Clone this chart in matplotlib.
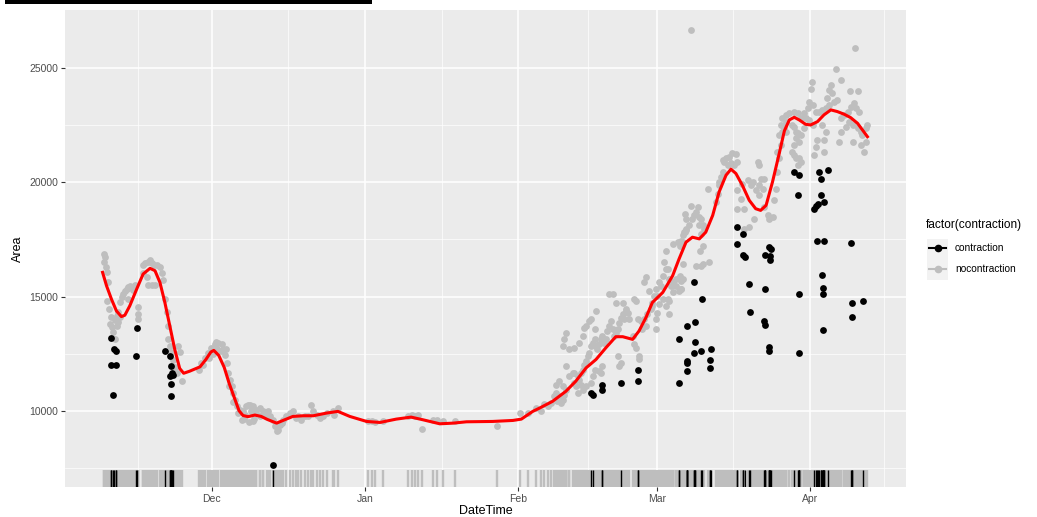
import numpy as np
import matplotlib
matplotlib.use("Agg")
import matplotlib.pyplot as plt
from matplotlib.patches import Rectangle
from matplotlib.lines import Line2D

plt.rcParams['font.family'] = ['Liberation Sans', 'DejaVu Sans']

# days are counted from 1 Dec
month_days = [0, 31, 62, 90, 121]
month_labels = ['Dec', 'Jan', 'Feb', 'Mar', 'Apr']
area_ticks = [10000, 15000, 20000, 25000]

# nocontraction points (day, area)
nov_gray = [(-21.8, 16860), (-21.6, 16730), (-21.8, 16510), (-21.4, 16290), (-21.2, 16070),
            (-21.0, 15630), (-21.2, 14800), (-20.8, 14440), (-20.6, 13780), (-20.2, 13650),
            (-19.9, 13430), (-19.5, 13120), (-19.2, 14140), (-18.9, 14310), (-18.6, 14750),
            (-18.2, 14970), (-17.9, 15100), (-17.5, 15230), (-17.2, 15320), (-16.9, 15410),
            (-16.6, 15460), (-16.2, 15410), (-18.9, 13900), (-18.6, 14100), (-19.2, 13700),
            (-19.6, 13950), (-14.9, 14530), (-14.9, 14220), (-14.9, 14000), (-13.9, 16380),
            (-13.6, 16470), (-12.9, 16510), (-12.5, 16600), (-12.2, 16470), (-11.8, 16380),
            (-11.1, 16380), (-10.5, 16300), (-10.1, 16030), (-9.8, 15720), (-13.9, 16030),
            (-13.2, 15850), (-12.9, 15500), (-12.2, 15500), (-11.5, 15500), (-9.5, 14880),
            (-9.1, 14310), (-8.8, 13700), (-8.8, 13120), (-8.5, 12820), (-8.2, 12550),
            (-7.8, 12240), (-7.5, 11930), (-6.8, 12820), (-6.5, 12550), (-7.1, 11670),
            (-6.1, 11280), (-16.0, 15300), (-15.6, 15500), (-17.0, 14900), (-20.4, 14100)]

dec_gray = [(-2.1, 12100), (-1.4, 12320), (-0.7, 12540), (-0.1, 12760), (0.6, 12900),
            (1.3, 12980), (2.0, 12900), (2.3, 12680), (2.6, 12460), (3.0, 12100),
            (3.3, 11660), (3.6, 11360), (4.0, 11070), (4.3, 10770), (4.6, 10480),
            (5.0, 10190), (5.7, 10040), (6.3, 9970), (7.0, 10190), (7.7, 10260),
            (8.3, 10190), (9.0, 10040), (9.7, 10120), (10.4, 9970), (-2.5, 11800),
            (-1.8, 12000), (-0.5, 12300), (0.3, 12500), (1.0, 12700), (1.8, 12600),
            (0.8, 13000), (2.8, 12700), (3.5, 11100), (4.2, 10400), (5.2, 9900),
            (6.5, 9650), (7.5, 9500), (8.5, 9650),
            (6.0, 9600), (6.7, 9820), (7.3, 10260), (8.0, 9970), (8.3, 9530),
            (9.0, 9900), (9.7, 9750), (10.4, 9820), (11.1, 9750), (11.4, 9970),
            (11.7, 9750), (12.4, 9600), (12.7, 9310), (13.1, 9090), (13.4, 9160),
            (13.7, 9380), (14.1, 9450), (14.4, 9600), (15.1, 9750), (15.8, 9900),
            (16.4, 9970), (17.1, 9680), (17.4, 9750), (18.1, 9600), (18.8, 9750),
            (19.5, 9750), (20.1, 10260), (20.5, 9970), (21.2, 9820), (21.8, 9680),
            (22.5, 9750), (23.2, 9900), (24.5, 9970), (24.8, 9820), (25.5, 10120)]

jan_gray = [(31.6, 9530), (32.4, 9550), (33.0, 9500), (34.6, 9530), (39.7, 9750),
            (40.4, 9820), (41.0, 9750), (41.6, 9800), (42.6, 9200), (44.7, 9600),
            (45.5, 9600), (46.7, 9530), (49.1, 9530), (57.6, 9340), (62.4, 9900)]

feb_gray = [(67.9, 10189), (68.6, 10336), (69.3, 10629), (69.6, 10776), (69.9, 10409),
            (70.3, 10629), (70.6, 10336), (71.0, 10483), (71.3, 10703), (71.6, 10923),
            (69.6, 11143), (70.3, 11289), (71.0, 11069), (72.3, 11509), (73.0, 11656),
            (73.3, 11216), (73.6, 11069), (74.0, 10776), (74.3, 11363), (74.7, 11656),
            (75.0, 11803), (75.3, 12023), (75.7, 12169), (76.0, 12389), (76.3, 12536),
            (76.7, 12829), (77.0, 12976), (77.4, 13123), (77.7, 12829), (78.0, 12683),
            (78.4, 12903), (78.7, 13123), (79.0, 13270), (79.4, 12976), (79.7, 13123),
            (80.0, 13490), (80.4, 13710), (80.7, 13930), (81.1, 13563), (81.4, 13270),
            (81.7, 13416), (82.1, 13563), (82.4, 13856), (82.7, 14077), (83.1, 14223),
            (83.4, 14003), (83.7, 14370), (84.1, 14297), (82.4, 11949), (82.7, 12096),
            (82.1, 12389), (79.0, 11949), (78.7, 11656), (78.4, 11729), (77.4, 11803),
            (77.0, 11509), (76.7, 11216), (75.7, 11069), (75.0, 10923), (74.7, 11143),
            (74.0, 11509), (73.3, 11656), (71.6, 11949), (71.0, 12829), (71.3, 13123),
            (71.6, 13416), (72.3, 12683), (73.3, 12756), (74.3, 12976), (75.0, 13270),
            (75.3, 13636), (75.7, 13710), (76.3, 13930), (76.7, 14003), (77.4, 13563),
            (77.6, 14370), (80.4, 15103), (81.1, 15103), (81.7, 14737), (83.1, 14737),
            (83.7, 14443), (84.4, 14003), (85.1, 13270), (85.4, 12903), (85.8, 12756),
            (86.1, 14003), (85.4, 14883), (85.8, 14810), (86.4, 12389), (86.4, 12243),
            (87.1, 13563), (87.5, 15617), (87.8, 15837), (88.5, 15250), (89.1, 14737),
            (89.5, 15030), (89.8, 15323), (90.1, 15030), (90.5, 15617), (90.8, 15470),
            (91.2, 15910), (91.5, 16497), (91.8, 16204), (92.2, 16204), (92.5, 15763),
            (92.8, 15470), (93.2, 15617), (93.9, 15763), (94.5, 15250), (95.2, 15763),
            (94.9, 15323), (93.9, 15470), (93.2, 15177), (92.5, 14810), (91.8, 17011),
            (91.8, 14590), (92.2, 14883), (91.2, 14883), (90.5, 14663), (89.8, 14003),
            (89.8, 13563), (90.1, 14297), (93.2, 17304), (94.2, 17377), (94.9, 17451),
            (95.2, 17671), (95.5, 17817), (95.9, 17891), (92.5, 14223), (87.8, 13710),
            (87.5, 14003), (86.8, 13930), (88.1, 14223), (88.8, 14443), (89.1, 14590),
            (64.0, 9900), (65.5, 10100), (66.5, 10000), (67.2, 10300)]

mar_gray = [(94.6, 17229), (95.2, 17376), (95.6, 17816), (95.9, 17963), (96.6, 18110),
            (97.2, 18403), (97.6, 18550), (97.9, 18697), (96.9, 18960), (98.3, 18917),
            (98.6, 18476), (98.9, 18403), (99.3, 18110), (99.6, 17963), (98.6, 18110),
            (98.9, 17743), (99.3, 17229), (98.7, 17009), (97.9, 16349), (98.9, 16349),
            (99.3, 16423), (100.6, 16496), (95.2, 16423), (94.9, 15689), (94.9, 15322),
            (94.6, 15909), (95.9, 18403), (95.6, 18623), (100.3, 19723), (102.0, 19137),
            (102.3, 19503), (102.6, 19870), (103.0, 20237), (103.3, 20457), (103.6, 20897),
            (104.0, 21044), (104.6, 21117), (105.3, 21264), (106.0, 21220), (106.3, 20897),
            (105.7, 20750), (105.0, 20824), (104.3, 20750), (103.3, 20970), (102.6, 20017),
            (106.3, 19650), (107.0, 19283), (106.3, 18843), (107.7, 18843), (107.3, 19943),
            (108.4, 20090), (109.0, 19870), (109.4, 20017), (110.0, 19650), (110.7, 19870),
            (111.0, 20163), (111.4, 19723), (111.7, 20163), (110.7, 19430), (110.4, 20897),
            (110.7, 20750), (111.7, 18917), (112.4, 18550), (112.7, 18403), (113.4, 18476),
            (113.7, 19210), (109.7, 18403), (108.7, 18036), (107.7, 17963), (114.1, 19723),
            (114.4, 20457), (114.8, 21044), (115.1, 21630), (115.4, 22217), (116.1, 22657),
            (114.8, 22071), (114.4, 21337), (117.4, 22511), (118.1, 22217), (117.8, 21630),
            (117.4, 21337), (118.1, 21044), (118.5, 20750), (96.9, 26689)]

apr_gray = [(130.1, 25884), (126.2, 24974), (127.2, 24490), (121.3, 24387), (121.1, 24094),
            (125.2, 24270), (124.9, 24050), (125.5, 23903), (124.5, 23683), (125.9, 23537),
            (126.5, 23610), (124.9, 23390), (124.2, 23243), (123.5, 23170), (122.8, 23097),
            (122.2, 23097), (121.5, 23390), (120.8, 23537), (120.5, 23243), (119.8, 23023),
            (119.1, 22803), (118.5, 23023), (117.8, 23097), (116.8, 23023), (116.1, 22950),
            (115.4, 22803), (115.1, 22510), (115.8, 22363), (116.1, 22216), (117.8, 22436),
            (118.5, 22143), (118.1, 21923), (118.8, 21776), (119.1, 22070), (117.8, 21189),
            (118.8, 21043), (119.1, 20896), (121.8, 21189), (122.2, 21556), (122.5, 21850),
            (123.8, 21850), (124.2, 22216), (123.8, 21336), (123.5, 22510), (121.5, 22510),
            (120.8, 22730), (120.1, 22803), (119.8, 22363), (129.0, 23977), (130.6, 23977),
            (129.9, 23463), (129.2, 23317), (130.2, 23243), (130.9, 23097), (128.6, 23097),
            (127.9, 22950), (127.2, 22803), (127.2, 22216), (128.2, 22436), (128.9, 22656),
            (129.6, 22510), (130.6, 22363), (131.2, 22216), (131.6, 22070), (132.3, 22363),
            (132.6, 22510), (126.9, 21776), (129.6, 21776), (131.2, 21630), (131.9, 21336),
            (132.3, 21776)]

# contraction points (day, area)
contraction = [(-15.2, 13607), (-20.3, 13196), (-19.8, 12712), (-19.3, 12610), (-20.4, 11993),
               (-19.3, 11993), (-19.9, 10702), (-15.4, 12404), (-9.5, 12610), (-8.5, 12390),
               (-8.2, 11949), (-8.0, 11656), (-8.5, 11509), (-7.8, 11583), (-8.2, 11186),
               (-8.35, 10629), (12.4, 7624),
               (76.7, 10776), (77.0, 10703), (79.0, 11143), (79.0, 10923), (82.7, 11216),
               (86.1, 11803), (86.1, 11289), (94.5, 11216), (94.5, 13123), (96.2, 13710),
               (96.2, 12169), (96.2, 12096), (96.2, 11729),
               (97.6, 15616), (99.1, 14912), (97.8, 13899), (97.8, 13005), (97.6, 12506),
               (98.9, 12609), (100.9, 12711), (100.7, 12212), (100.7, 11890), (106.3, 18036),
               (107.5, 17728), (106.3, 17317), (107.5, 16819), (107.9, 16731), (108.7, 15528),
               (108.8, 14325), (111.9, 16819), (112.7, 17156), (113.1, 17083), (112.9, 16790),
               (112.9, 16613), (111.9, 15322), (111.7, 13929), (111.9, 13738), (112.6, 12799),
               (112.7, 12608),
               (117.8, 20456), (118.8, 20338), (122.8, 20456), (124.6, 20529), (123.2, 20162),
               (118.6, 19458), (123.2, 19458), (123.8, 19135), (121.8, 18842), (122.2, 18959),
               (122.7, 19062), (122.5, 17448), (123.8, 17448), (129.2, 17331), (123.5, 15937),
               (118.7, 15130), (123.6, 15351), (123.6, 15130), (129.4, 14735), (131.7, 14808),
               (129.4, 14118), (123.6, 13517), (118.7, 12534)]

# smoothed fit
smooth = [(-22.1, 16057), (-21.3, 15470), (-20.3, 14883), (-19.3, 14370), (-18.3, 14121),
          (-17.6, 14179), (-16.6, 14590), (-15.2, 15324), (-13.9, 15984), (-12.5, 16233),
          (-11.5, 16130), (-10.5, 15617), (-9.5, 14737), (-8.5, 13710), (-7.5, 12683),
          (-6.5, 11850), (-5.7, 11640), (-4.5, 11729), (-2.4, 11920), (-1.2, 12243),
          (-0.2, 12570), (0.4, 12640), (1.4, 12420), (2.5, 11900), (3.5, 11200),
          (4.4, 10660), (5.5, 10000), (6.3, 9790), (7.3, 9740), (8.7, 9810),
          (10.0, 9749), (11.2, 9620), (13.1, 9456), (14.4, 9574), (16.4, 9750),
          (18.5, 9779), (20.5, 9779), (23.2, 9896), (25.5, 9970), (27.9, 9750),
          (31.3, 9530), (34.0, 9486), (37.3, 9632), (40.3, 9720), (42.7, 9603),
          (46.1, 9427), (48.8, 9456), (51.5, 9515), (56.8, 9530), (60.9, 9574),
          (62.6, 9632), (64.9, 9970), (66.3, 10117), (68.9, 10409), (71.6, 10849),
          (73.6, 11289), (75.7, 11876), (77.7, 12243), (79.7, 12756), (81.7, 13240),
          (83.1, 13240), (85.1, 13123), (86.4, 13490), (87.8, 14077), (89.1, 14737),
          (91.2, 15177), (93.2, 15910), (94.5, 16644), (95.9, 17376), (97.2, 17596),
          (98.6, 17523), (99.9, 17816), (101.3, 18550), (102.6, 19577), (104.0, 20310),
          (105.0, 20574), (106.0, 20384), (107.3, 19870), (108.7, 19210), (110.0, 18843),
          (111.0, 18770), (112.1, 18990), (113.4, 20017), (114.8, 21300), (115.8, 22250),
          (116.8, 22730), (117.8, 22847), (118.8, 22730), (120.1, 22539), (121.1, 22510),
          (122.5, 22656), (123.8, 22950), (125.2, 23170), (126.5, 23097), (127.9, 22979),
          (129.2, 22832), (130.6, 22583), (131.6, 22290), (132.6, 21996)]

gray_pts = np.array(nov_gray + dec_gray + jan_gray + feb_gray + mar_gray + apr_gray)
black_pts = np.array(contraction)
smooth = np.array(smooth)

W, H = 1037, 517
fig = plt.figure(figsize=(W / 100, H / 100), dpi=100)
ax = fig.add_axes([65 / W, (H - 487) / H, (906 - 65) / W, (487 - 10) / H])
ax.set_facecolor('#EBEBEB')
for s in ax.spines.values():
    s.set_visible(False)

ax.set_xlim(-29.7, 140.4)
ax.set_ylim(6660, 27543)

ax.set_xticks(month_days)
ax.set_xticklabels(month_labels)
ax.set_xticks([-15, 15.5, 46.5, 76, 105.5, 136], minor=True)
ax.set_yticks(area_ticks)
ax.set_yticklabels([str(v) for v in area_ticks])
ax.set_yticks([7500, 12500, 17500, 22500], minor=True)
ax.grid(True, which='major', color='white', lw=1.1)
ax.grid(True, which='minor', color='white', lw=0.5)
ax.set_axisbelow(True)
ax.tick_params(which='major', length=3, width=0.8, color='#333333',
               labelsize=7.5, labelcolor='#4D4D4D', pad=2)
ax.tick_params(which='minor', length=0)

ax.scatter(gray_pts[:, 0], gray_pts[:, 1], s=24, color='#BEBEBE', lw=0, zorder=2)
ax.scatter(black_pts[:, 0], black_pts[:, 1], s=24, color='black', lw=0, zorder=3)
ax.plot(smooth[:, 0], smooth[:, 1], color='red', lw=2.2, zorder=4)

# rug along the bottom
rug_tr = ax.get_xaxis_transform()
ax.vlines(gray_pts[:, 0], 0, 0.035, transform=rug_tr, color='#BEBEBE', lw=1.7, zorder=2)
ax.vlines(black_pts[:, 0], 0, 0.035, transform=rug_tr, color='black', lw=1.0, zorder=3)

ax.set_xlabel('DateTime', fontsize=9, labelpad=1)
ax.set_ylabel('Area', fontsize=9, labelpad=4)

# legend
fig.text(926 / W, 1 - 225 / H, 'factor(contraction)', fontsize=8.6, va='center', ha='left')
fig.add_artist(Rectangle((927 / W, 1 - 280 / H), 21 / W, 41 / H,
                         transform=fig.transFigure, color='#F2F2F2', lw=0))
for yy, col, lab in [(248, 'black', 'contraction'), (269, '#BEBEBE', 'nocontraction')]:
    fig.add_artist(Line2D([929 / W, 946 / W], [1 - yy / H] * 2, transform=fig.transFigure,
                          color=col, lw=1.5))
    fig.add_artist(Line2D([937.5 / W], [1 - yy / H], transform=fig.transFigure,
                          color=col, marker='o', ms=4.5, lw=0))
    fig.text(955 / W, 1 - yy / H, lab, fontsize=7.3, va='center', ha='left', color='black')

# black bar across the top left
fig.add_artist(Rectangle((5 / W, 1 - 4 / H), 367 / W, 4 / H,
                         transform=fig.transFigure, color='black', lw=0))

fig.savefig('out.png', dpi=100)
